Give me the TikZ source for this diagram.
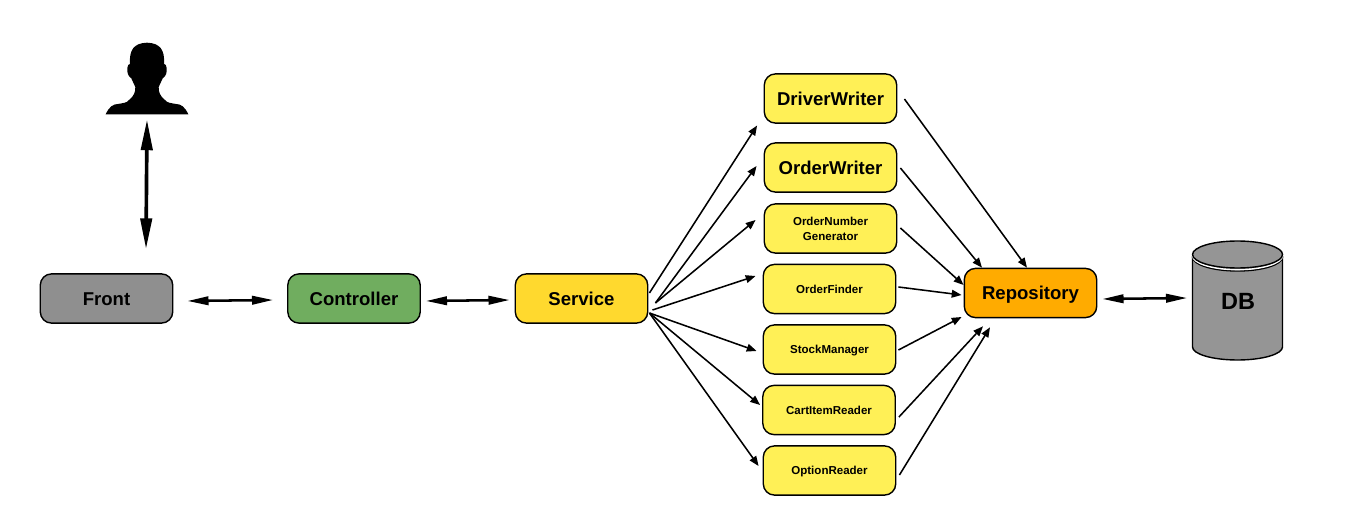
\documentclass[tikz,border=0pt]{standalone}
\usepackage{fontspec}
\setmainfont{Liberation Sans}
\usetikzlibrary{calc}
\usetikzlibrary{arrows.meta}
\definecolor{GrisFront}{HTML}{8F8F8F}
\definecolor{VertCtrl}{HTML}{70AD5F}
\definecolor{JauneSvc}{HTML}{FFD92E}
\definecolor{JauneImpl}{HTML}{FFF056}
\definecolor{OrangeRepo}{HTML}{FFAB00}
\definecolor{GrisDB}{HTML}{959595}
\tikzstyle{boite}    =[draw=black, line width=1pt, rounded corners=8pt, minimum width=3.31cm, minimum height=1.23cm, inner sep=0pt, align=center, text height=9.5pt, text depth=0pt, font=\fontsize{13.2}{15}\selectfont\bfseries]
\tikzstyle{petite}   =[boite, fill=JauneImpl, text height=6pt, font=\fontsize{8.2}{10.5}\selectfont\bfseries]
\tikzstyle{impl}     =[boite, fill=JauneImpl]
\tikzstyle{fleche}   =[line width=1.1pt, -{Triangle[length=7pt,width=5.5pt]}]
\tikzstyle{double}   =[line width=1.8pt, {Triangle[length=15pt,width=6pt]}-{Triangle[length=15pt,width=6pt]}]
\tikzstyle{doublev}  =[line width=2.6pt, {Triangle[length=22pt,width=8pt]}-{Triangle[length=22pt,width=8pt]}]
\begin{document}
\begin{tikzpicture}[x=0.025cm,y=-0.025cm]
 \useasboundingbox (0,0) rectangle (1371,510);
 % user
 \fill[black] (105.7,114.3) .. controls (109,107) and (113,104) .. (118,104)
  .. controls (123,103) and (127,103) .. (129,100) .. controls (134,96) and (135.5,92) .. (135.3,87.3)
  .. controls (134,83) and (132,81) .. (131.3,78.3) .. controls (128,76) and (127,73) .. (127.3,68)
  .. controls (127.3,65) and (129,64) .. (130,64) .. controls (129,50) and (134,43) .. (147,42.7)
  .. controls (160,43) and (165,50) .. (164,64) .. controls (165,64) and (166.7,65) .. (166.7,68)
  .. controls (167,73) and (166,76) .. (162.7,78.3) .. controls (162,81) and (160,83) .. (158.7,87.3)
  .. controls (158.5,92) and (160,96) .. (165,100) .. controls (167,103) and (171,103) .. (176,104)
  .. controls (181,104) and (185,107) .. (188.3,114.3) -- cycle;
 \draw (147,79) node[minimum width=2cm,minimum height=1.8cm] (user) {};
 % main row
 \draw (106.5,298.5) node[boite,fill=GrisFront] (front) {Front};
 \draw (354,298.5) node[boite,fill=VertCtrl] (controller) {Controller};
 \draw (581.5,298.5) node[boite,fill=JauneSvc] (service) {Service};
 \draw (1030.5,293) node[boite,fill=OrangeRepo] (repository) {Repository};
 % implementations
 \draw (830.5,98.5) node[impl] (driverwriter) {DriverWriter};
 \draw (830.5,167.5) node[impl] (orderwriter) {OrderWriter};
 \draw (830.5,228.5) node[petite,text height=,text depth=] (ordernumber) {OrderNumber\\Generator};
 \draw (829.5,289) node[petite] (orderfinder) {OrderFinder};
 \draw (829.5,349.5) node[petite] (stockmanager) {StockManager};
 \draw (829,410) node[petite] (cartitem) {CartItemReader};
 \draw (829.5,470.5) node[petite] (optionreader) {OptionReader};
 % database
 \draw[line width=1pt,fill=GrisDB] (1192.5,257) -- (1192.5,347) arc[start angle=180,end angle=0,x radius=45,y radius=13] -- (1282.5,257) -- cycle;
 \draw[line width=1pt,fill=GrisDB] (1237.5,257) ellipse[x radius=45,y radius=14];
 \draw[line width=1pt,white] (1237.5,255.7) ellipse[x radius=45,y radius=14];
 \draw[line width=1pt,fill=GrisDB] (1237.5,254.5) ellipse[x radius=45,y radius=13.5];
 \draw (1238,301) node[font=\fontsize{16.7}{20}\selectfont\bfseries] (db) {DB};
 % double arrows
 \draw[doublev] ($(user.south)+(0,4)$) -- ($(user.south)+(-1,134)$);
 \draw[double] ($(front.east)+(14,2.5)$) -- ($(controller.west)+(-14,1.5)$);
 \draw[double] ($(controller.east)+(5,2.5)$) -- ($(service.west)+(-5,1.5)$);
 \draw[double] ($(repository.east)+(5,6)$) -- ($(db.west)+(-29,-3)$);
 % service to implementations
 \draw[fleche] ($(service.east)+(1,-5.5)$) -- ($(driverwriter.west)+(-6.5,27)$);
 \draw[fleche] ($(service.east)+(7,4.5)$) -- ($(orderwriter.west)+(-7,-1.5)$);
 \draw[fleche] ($(service.east)+(7,4.5)$) -- ($(ordernumber.west)+(-8,-8.5)$);
 \draw[fleche] ($(service.east)+(4,11.5)$) -- ($(orderfinder.west)+(-7,-13)$);
 \draw[fleche] ($(service.east)+(1,14.5)$) -- ($(stockmanager.west)+(-6,1.5)$);
 \draw[fleche] ($(service.east)+(1,14.5)$) -- ($(cartitem.west)+(-2,-5)$);
 \draw[fleche] ($(service.east)+(1,14.5)$) -- ($(optionreader.west)+(-4,-4.5)$);
 % implementations to repository
 \draw[fleche] ($(driverwriter.east)+(7,0.5)$) -- ($(repository.north)+(-3.5,0)$);
 \draw[fleche] ($(orderwriter.east)+(3,0.5)$) -- ($(repository.north)+(-48.5,0)$);
 \draw[fleche] ($(ordernumber.east)+(3,-0.5)$) -- ($(repository.west)+(0,-8)$);
 \draw[fleche] ($(orderfinder.east)+(2,-2)$) -- ($(repository.west)+(-2,2)$);
 \draw[fleche] ($(stockmanager.east)+(2,0.5)$) -- ($(repository.west)+(-2,24)$);
 \draw[fleche] ($(cartitem.east)+(3,7)$) -- ($(repository.south)+(-47.5,8)$);
 \draw[fleche] ($(optionreader.east)+(3,4.5)$) -- ($(repository.south)+(-40.5,9)$);
\end{tikzpicture}
\end{document}
